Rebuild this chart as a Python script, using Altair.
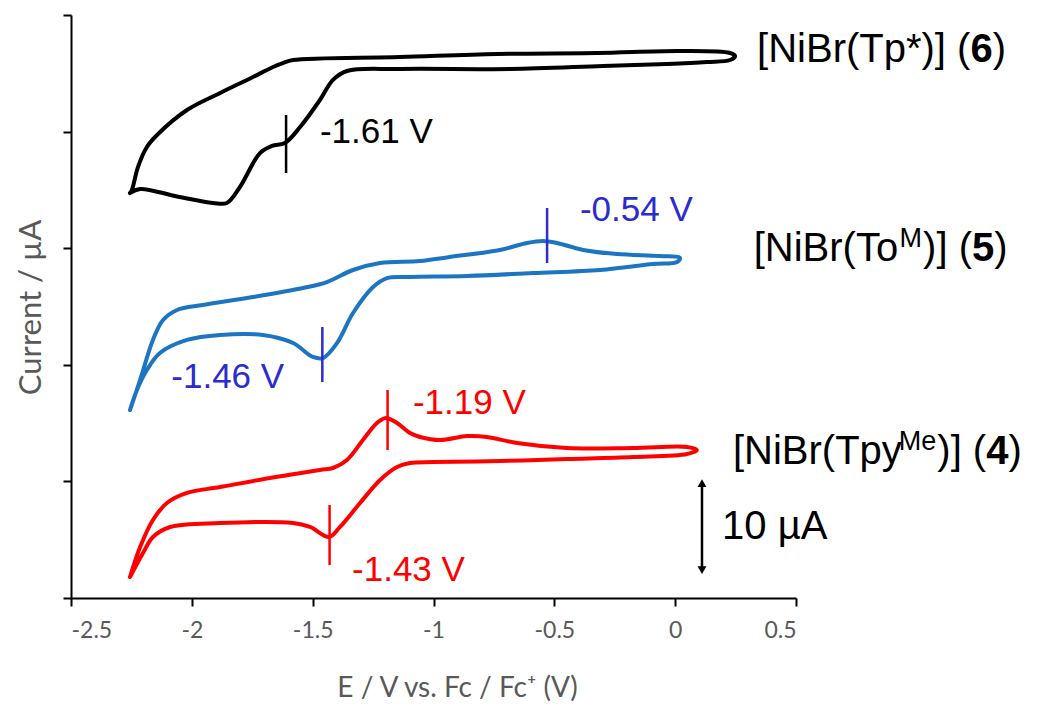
import altair as alt
import pandas as pd

# ---------------- data (E in V vs Fc/Fc+, current in offset units; 10 units per y tick) ----
# [NiBr(Tp*)] (6) - black
E6 = [-2.256, -2.214, -2.070, -1.912, -1.855, -1.801, -1.718, -1.668, -1.615, -1.552, -1.470,
      -1.416, -1.358, -1.139, -0.683, -0.299, -0.034, 0.132, 0.227, 0.248, 0.227, 0.020,
      -0.324, -0.737, -1.139, -1.581, -1.623, -1.664, -1.747, -1.883, -2.020, -2.144, -2.186,
      -2.223, -2.248, -2.256]
I6 = [34.73, 35.08, 34.48, 33.88, 33.88, 35.25, 38.16, 38.77, 39.02, 40.39, 42.71,
      44.43, 45.20, 45.37, 45.37, 45.63, 45.80, 45.97, 46.14, 46.48, 46.74, 46.91,
      46.74, 46.66, 46.40, 46.14, 45.88, 45.54, 44.68, 43.31, 41.85, 39.71, 38.68,
      36.96, 34.99, 34.73]

# [NiBr(ToM)] (5) - blue
E5 = [-2.256, -2.214, -2.161, -2.119, -2.061, -1.954, -1.747, -1.540, -1.441, -1.333, -1.221,
      -1.056, -0.932, -0.725, -0.613, -0.547, -0.489, -0.381, -0.241, -0.063, 0.020, 0.008,
      -0.092, -0.311, -0.588, -0.861, -1.097, -1.192, -1.250, -1.333, -1.399, -1.457, -1.499,
      -1.581, -1.706, -1.883, -2.020, -2.132, -2.186, -2.227, -2.256]
I5 = [16.12, 18.70, 22.13, 23.84, 24.70, 25.13, 25.81, 26.59, 27.10, 28.13, 28.73,
      28.90, 29.25, 29.85, 30.45, 30.62, 30.45, 29.85, 29.50, 29.33, 29.16, 28.82,
      28.64, 28.13, 27.87, 27.62, 27.53, 27.44, 26.67, 24.44, 21.87, 20.58, 20.67,
      21.87, 22.56, 22.56, 22.13, 21.01, 19.55, 17.84, 16.12]

# [NiBr(TpyMe)] (4) - red
E4 = [-2.256, -2.214, -2.161, -2.103, -2.020, -1.883, -1.677, -1.470, -1.416, -1.358, -1.292,
      -1.234, -1.197, -1.151, -1.097, -1.056, -0.973, -0.861, -0.779, -0.654, -0.448, -0.175,
      0.049, 0.090, 0.049, -0.175, -0.448, -0.725, -1.002, -1.097, -1.151, -1.221, -1.304,
      -1.387, -1.432, -1.511, -1.581, -1.883, -2.090, -2.161, -2.202, -2.256]
I4 = [1.80, 4.37, 6.69, 8.15, 9.01, 9.52, 10.29, 10.98, 11.15, 11.84, 13.55,
      15.01, 15.44, 15.01, 14.15, 13.81, 13.55, 13.89, 13.81, 13.29, 12.86, 12.86,
      12.95, 12.69, 12.35, 12.09, 11.92, 11.75, 11.66, 11.58, 11.23, 10.12, 8.15,
      6.09, 5.23, 6.09, 6.43, 6.43, 6.09, 5.23, 3.86, 1.80]

x_ticks = [-2.5, -2.0, -1.5, -1.0, -0.5, 0.0, 0.5]
y_ticks = [0, 10, 20, 30, 40, 50]

# peak markers
peak_E = [-1.61, -0.53, -1.46, -1.19, -1.43]
peak_lo = [36.45, 28.73, 18.52, 12.69, 2.83]
peak_hi = [41.42, 33.45, 23.24, 17.84, 7.98]
peak_color = ["#000000", "#2B2BCF", "#2B2BCF", "#FF0000", "#FF0000"]
peak_text = ["-1.61 V", "-0.54 V", "-1.46 V", "-1.19 V", "-1.43 V"]
peak_label_E = [-1.470, -0.394, -2.085, -1.085, -1.337]
peak_label_I = [39.97, 33.28, 18.95, 16.72, 2.40]

# compound labels: (E, I, segments)
compound_E = [0.339, 0.325, 0.239]
compound_I = [47.0, 29.9, 12.5]
compound_segments = [
    [("[NiBr(Tp*)] (", "normal", False), ("6", "bold", False), (")", "normal", False)],
    [("[NiBr(To", "normal", False), ("M", "normal", True), (")] (", "normal", False),
     ("5", "bold", False), (")", "normal", False)],
    [("[NiBr(Tpy", "normal", False), ("Me", "normal", True), (")] (", "normal", False),
     ("4", "bold", False), (")", "normal", False)],
]

# scale bar (10 uA)
bar_E = [0.111]
bar_lo = [2.40]
bar_hi = [9.86]
bar_text = ["10 \u00b5A"]
bar_text_E = [0.194]
bar_text_I = [6.09]

# ---------------- styling ----------------
W, H = 725, 583
PAD = {"left": 71, "top": 15, "right": 1053 - 71 - W, "bottom": 704 - 15 - H}
FONT_TXT = "Liberation Sans"
FONT_AX = "Lato"
BIG = 40
SUP = 27
PEAK_SIZE = 35

ARIAL = {'[': 0.278, 'N': 0.722, 'i': 0.222, 'B': 0.667, 'r': 0.333, '(': 0.333, 'T': 0.611,
         'p': 0.556, '*': 0.389, ')': 0.333, ']': 0.278, ' ': 0.278, 'o': 0.556, 'y': 0.5,
         'M': 0.833, 'e': 0.556, '4': 0.556, '5': 0.556, '6': 0.556}


def twidth(s, size):
    return sum(ARIAL.get(c, 0.55) for c in s) * size


xscale = alt.Scale(domain=[-2.5, 0.5], nice=False, zero=False)
yscale = alt.Scale(domain=[0, 50], nice=False, zero=False)


def curve(E, I, color):
    df = pd.DataFrame({"E": E, "I": I, "k": range(len(E))})
    return alt.Chart(df).mark_line(
        color=color, strokeWidth=4, interpolate="catmull-rom", strokeJoin="round",
        strokeCap="round", clip=False
    ).encode(
        x=alt.X("E:Q", scale=xscale, axis=alt.Axis(
            values=x_ticks, title="E / V vs. Fc / Fc\u207a (V)", labelExpr="'' + datum.value",
            titleX=386, titleY=90, titleAlign="center", titleBaseline="middle",
            titleFontSize=28)),
        y=alt.Y("I:Q", scale=yscale, axis=alt.Axis(
            values=y_ticks, labels=False, title="Current / \u00b5A",
            titleX=-40, titleY=292, titleAlign="center", titleBaseline="middle",
            titleFontSize=31)),
        order="k:Q",
    )


layers = [curve(E6, I6, "#000000"), curve(E5, I5, "#1C75C2"), curve(E4, I4, "#FF0000")]

peaks = pd.DataFrame({"E": peak_E, "lo": peak_lo, "hi": peak_hi, "c": peak_color,
                      "t": peak_text, "LE": peak_label_E, "LI": peak_label_I})
layers.append(alt.Chart(peaks).mark_rule(strokeWidth=2.5).encode(
    x="E:Q", y="lo:Q", y2="hi:Q", color=alt.Color("c:N", scale=None)))
layers.append(alt.Chart(peaks).mark_text(
    font=FONT_TXT, fontSize=PEAK_SIZE, align="left", baseline="middle").encode(
    x="LE:Q", y="LI:Q", text="t:N", color=alt.Color("c:N", scale=None)))

for cE, cI, segs in zip(compound_E, compound_I, compound_segments):
    off = 0.0
    for txt, weight, sup in segs:
        size = SUP if sup else BIG
        start = off - (3 if sup else 0)
        d = pd.DataFrame({"E": [cE], "I": [cI], "t": [txt]})
        layers.append(alt.Chart(d).mark_text(
            font=FONT_TXT, fontSize=size, fontWeight=weight, align="left", baseline="middle",
            color="#000000", dx=start, dy=(-10 if sup else 0)).encode(
            x="E:Q", y="I:Q", text="t:N"))
        off = start + twidth(txt, size) + (1 if sup else 0)

bar = pd.DataFrame({"E": bar_E, "lo": bar_lo, "hi": bar_hi})
layers.append(alt.Chart(bar).mark_rule(strokeWidth=2.5, color="#000000").encode(
    x="E:Q", y="lo:Q", y2="hi:Q"))
layers.append(alt.Chart(bar).mark_point(shape="triangle-up", filled=True, size=80,
                                        color="#000000", opacity=1).encode(
    x="E:Q", y="hi:Q"))
layers.append(alt.Chart(bar).mark_point(shape="triangle-down", filled=True, size=80,
                                        color="#000000", opacity=1).encode(
    x="E:Q", y="lo:Q"))
bt = pd.DataFrame({"E": bar_text_E, "I": bar_text_I, "t": bar_text})
layers.append(alt.Chart(bt).mark_text(font=FONT_TXT, fontSize=BIG, align="left",
                                      baseline="middle", color="#000000").encode(
    x="E:Q", y="I:Q", text="t:N"))

chart = alt.layer(*layers).properties(
    width=W, height=H, padding=PAD, autosize=alt.AutoSizeParams(type="none"),
    background="#ffffff"
).configure_view(stroke=None).configure_axis(
    grid=False, domainColor="#000000", domainWidth=2, tickColor="#000000", tickWidth=2,
    tickSize=8, labelColor="#595959", titleColor="#595959", labelFont=FONT_AX,
    titleFont=FONT_AX, labelFontSize=23, titleFontWeight="normal",
    labelPadding=13
)

chart.save("out.html", embed_options={"renderer": "svg", "actions": False})
